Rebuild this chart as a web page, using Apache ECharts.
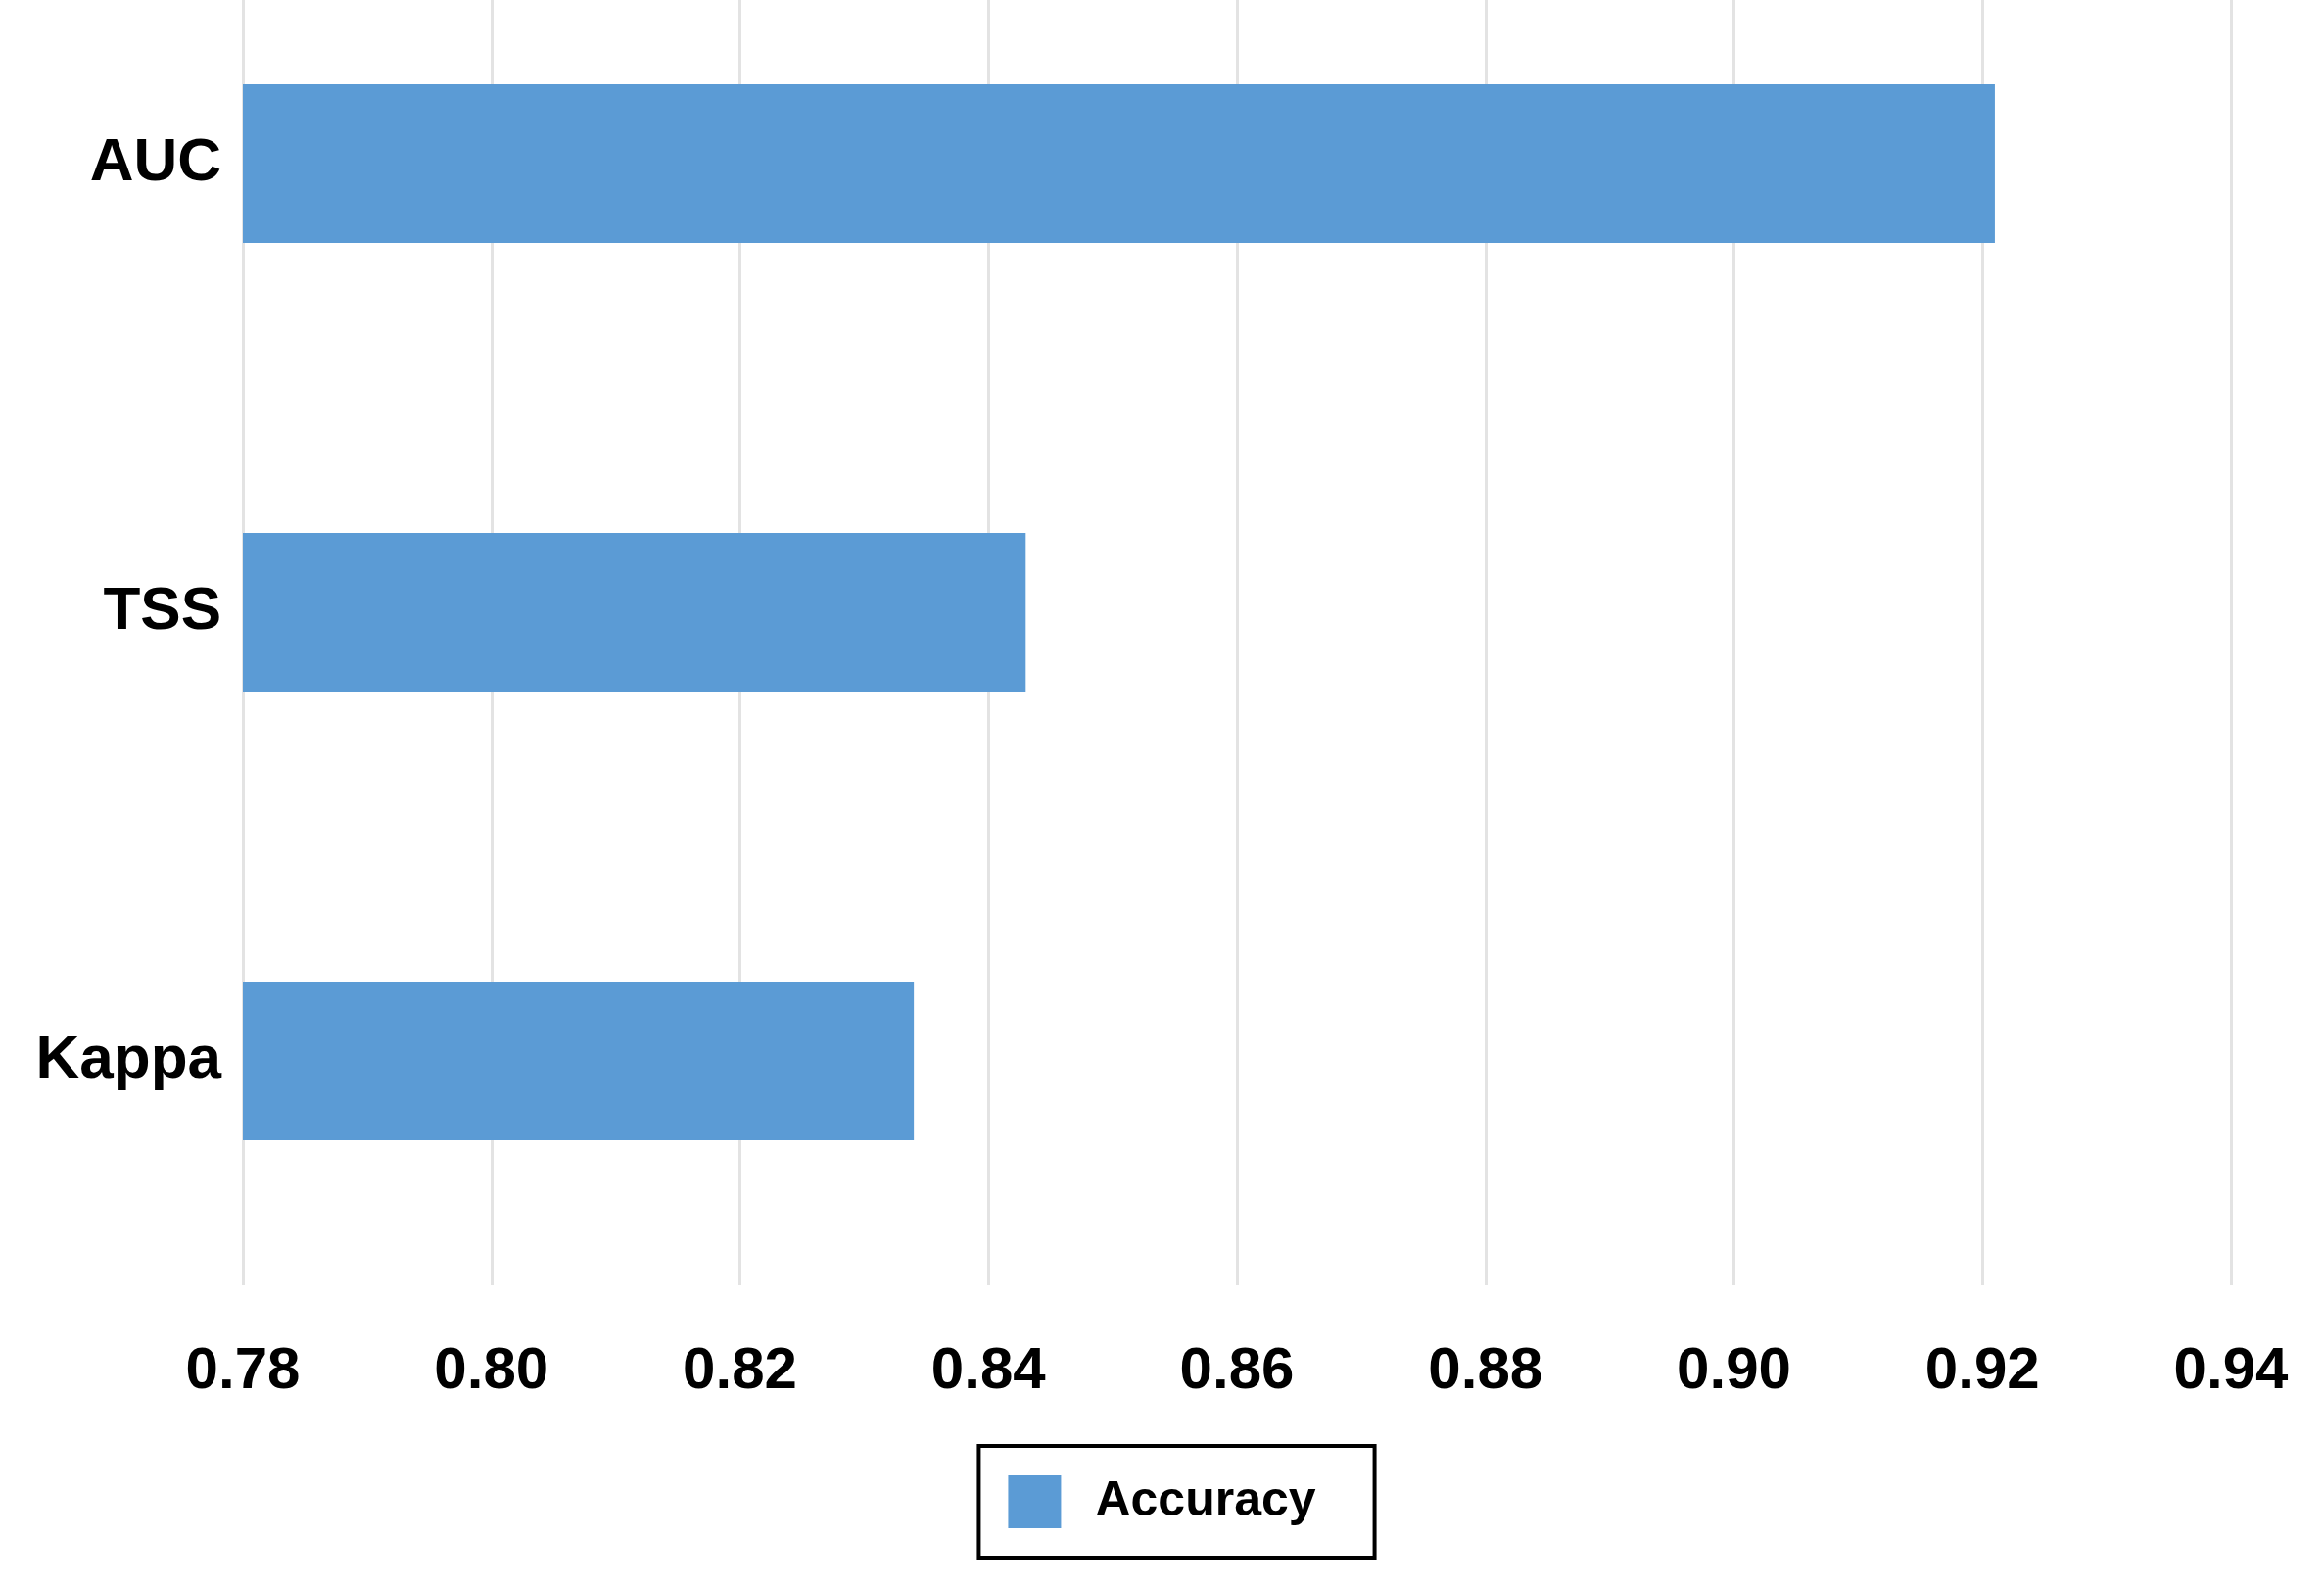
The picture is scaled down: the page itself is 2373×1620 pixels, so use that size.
<!DOCTYPE html>
<html><head><meta charset="utf-8">
<script src="https://cdn.jsdelivr.net/npm/echarts@6/dist/echarts.min.js"></script>
<style>html,body{margin:0;padding:0;background:#fff}#c{width:2373px;height:1620px}</style>
</head><body><div id="c"></div>
<script>
const categories = ['Kappa', 'TSS', 'AUC'];
const accuracy = [0.834, 0.843, 0.921];
const seriesName = 'Accuracy';
const chart = echarts.init(document.getElementById('c'));
chart.setOption({
  backgroundColor: '#fff',
  animation: false,
  grid: { left: 248, right: 95, top: -62, bottom: 308, containLabel: false, outerBoundsMode: 'none' },
  legend: {
    data: [seriesName], left: 'center', top: 1476, icon: 'rect',
    itemWidth: 54, itemHeight: 54, itemGap: 20,
    padding: [30, 60, 30, 30],
    borderColor: '#000', borderWidth: 4,
    textStyle: { fontFamily: 'Liberation Sans', fontWeight: 'bold', fontSize: 50, color: '#000', padding: [0, 0, 0, 30] }
  },
  xAxis: {
    type: 'value', min: 0.78, max: 0.94, interval: 0.02,
    axisLine: { show: false }, axisTick: { show: false },
    splitLine: { lineStyle: { color: '#e3e3e3', width: 3 } },
    axisLabel: { formatter: v => v.toFixed(2), margin: 58, fontFamily: 'Liberation Sans', fontWeight: 'bold', fontSize: 60, color: '#000' }
  },
  yAxis: {
    type: 'category', data: categories,
    axisLine: { show: false }, axisTick: { show: false },
    axisLabel: { margin: 22, fontFamily: 'Liberation Sans', fontWeight: 'bold', fontSize: 62, color: '#000' }
  },
  series: [{
    name: seriesName, type: 'bar', data: accuracy, barWidth: 162,
    itemStyle: { color: '#5b9bd5' }
  }]
});
</script></body></html>
